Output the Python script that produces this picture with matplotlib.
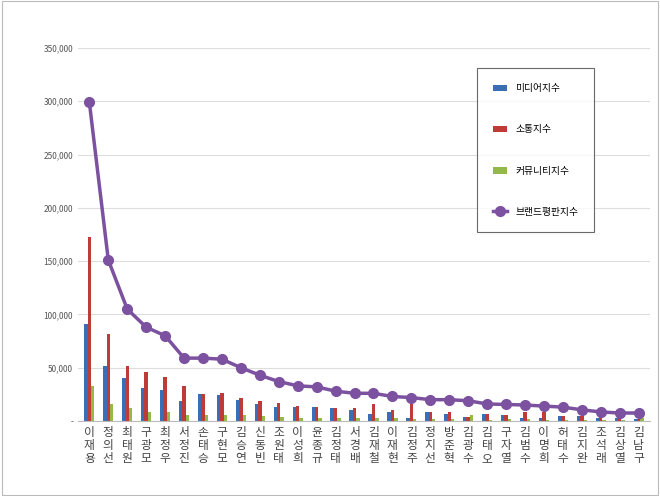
import matplotlib
matplotlib.use('Agg')
import matplotlib.pyplot as plt
import matplotlib.ticker as mticker
import numpy as np

plt.rcParams['font.family'] = ['Noto Sans CJK JP', 'Noto Sans CJK KR', 'DejaVu Sans']

names = ['이재용', '정의선', '최태원', '구광모', '최정우', '서정진', '손태승', '구현모', '김승연', '신동빈',
         '조원태', '이성희', '윤종규', '김정태', '서경배', '김재철', '이재현', '김정주', '정지선', '방준혁',
         '김광수', '김태오', '구자열', '김범수', '이명희', '허태수', '김지완', '조석래', '김상열', '김남구']
media = [91000, 52000, 40000, 31000, 29000, 19000, 25000, 24000, 20000, 16000,
         13000, 13000, 13000, 12000, 10000, 7000, 8000, 3000, 8000, 7000,
         4000, 6500, 6000, 3000, 3000, 5000, 4500, 2500, 2500, 1500]
comm = [173000, 82000, 52000, 46000, 41000, 33000, 25500, 26500, 22000, 19000,
        16500, 14000, 13000, 12000, 12000, 16000, 10000, 16000, 8500, 8500,
        4000, 6500, 6000, 8000, 8000, 5000, 4500, 5000, 3500, 2000]
community = [33000, 16000, 12500, 8500, 8000, 6000, 6000, 6000, 5500, 5000,
             3500, 2500, 2500, 2500, 2500, 3000, 2500, 1500, 1500, 2000,
             6000, 1000, 1500, 1500, 1000, 1000, 500, 500, 500, 2500]
brand = [299000, 151000, 105000, 88000, 80000, 59000, 59000, 58000, 50000, 43000,
         37000, 33000, 32000, 28000, 26000, 26000, 23000, 22000, 20000, 20000,
         19000, 16000, 15500, 15000, 14000, 13000, 10500, 8500, 7500, 7500]

fig = plt.figure(figsize=(6.6, 4.96), dpi=100)
fig.patches.append(plt.Rectangle((0.003, 0.003), 0.994, 0.994, transform=fig.transFigure,
                                 fill=False, edgecolor='#bbbbbb', linewidth=0.8))
ax = fig.add_axes([78 / 660, 1 - 421 / 496, 572 / 660, 373 / 496])

x = np.arange(len(names))
w = 0.18
b1 = ax.bar(x - w, media, w, color='#3a6fb5', label='미디어지수')
b2 = ax.bar(x, comm, w, color='#be3b37', label='소통지수')
b3 = ax.bar(x + w, community, w, color='#94b94a', label='커뮤니티지수')
ln, = ax.plot(x, brand, color='#7b51a0', linewidth=2.5, marker='o', markersize=7, label='브랜드평판지수')

ax.set_xlim(-0.6, len(names) - 0.4)
ax.set_ylim(0, 350000)
ax.yaxis.set_major_locator(mticker.MultipleLocator(50000))
ax.yaxis.set_major_formatter(mticker.FuncFormatter(lambda v, p: '-' if v == 0 else f'{int(v):,}'))
ax.set_xticks(x)
ax.set_xticklabels(['\n'.join(n) for n in names], fontsize=8.5, color='#444444', linespacing=1.0)
ax.tick_params(axis='y', labelsize=6, colors='#555555', length=0)
ax.tick_params(axis='x', length=0)
ax.grid(axis='y', color='#dddddd', linewidth=0.8)
ax.set_axisbelow(True)
for s in ['top', 'right', 'left']:
    ax.spines[s].set_visible(False)
ax.spines['bottom'].set_color('#bbbbbb')

leg = ax.legend(handles=[b1, b2, b3, ln], loc='upper right', bbox_to_anchor=(0.91, 0.96),
                fontsize=7, labelspacing=3.2, borderpad=1.6, fancybox=False,
                edgecolor='#444444', handlelength=1.5)
leg.get_frame().set_linewidth(0.8)

fig.savefig('out.png', dpi=100)
